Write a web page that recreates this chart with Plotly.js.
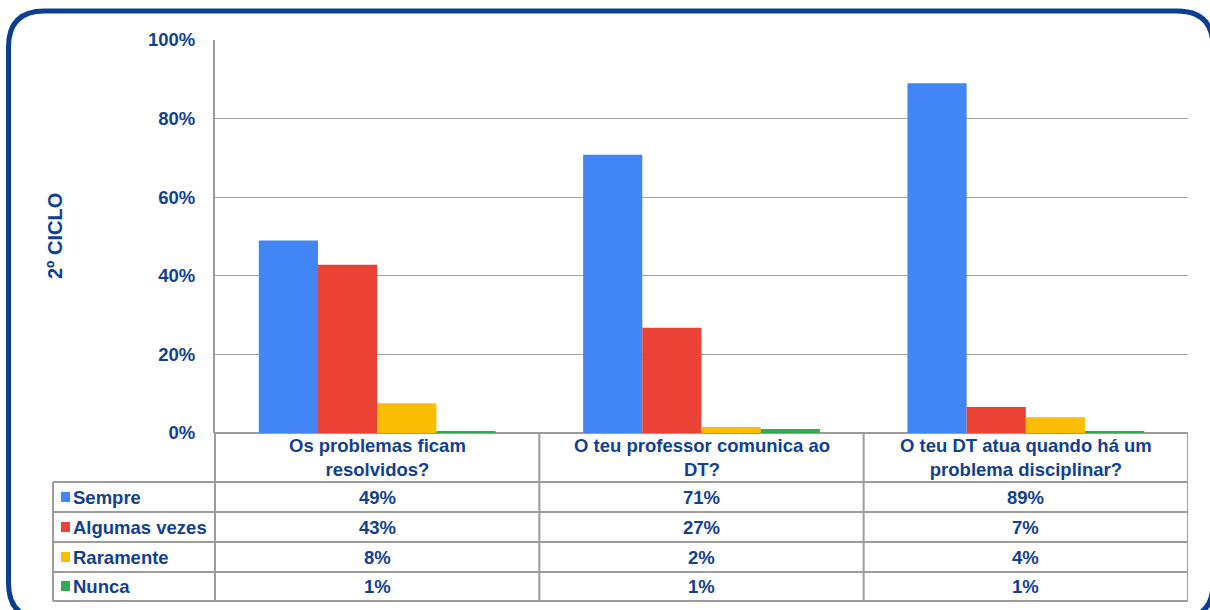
<!DOCTYPE html>
<html>
<head>
<meta charset="utf-8">
<script src="https://cdn.plot.ly/plotly-3.0.1.min.js"></script>
<style>html,body{margin:0;padding:0;background:#fff;}#chart{width:1210px;height:610px;}</style>
</head>
<body>
<div id="chart"></div>
<script>
// ---- data ----
const categories = ["Os problemas ficam<br>resolvidos?", "O teu professor comunica ao<br>DT?", "O teu DT atua quando há um<br>problema disciplinar?"];
const seriesNames = ["Sempre", "Algumas vezes", "Raramente", "Nunca"];
const sempre = [49.0, 70.8, 89.0];
const algumasVezes = [42.8, 26.8, 6.6];
const raramente = [7.6, 1.5, 4.0];
const nunca = [0.5, 1.0, 0.5];
const tableSempre = ["49%", "71%", "89%"];
const tableAlgumas = ["43%", "27%", "7%"];
const tableRaramente = ["8%", "2%", "4%"];
const tableNunca = ["1%", "1%", "1%"];
const yTickVals = [0, 20, 40, 60, 80, 100];
const yTickText = ["0%", "20%", "40%", "60%", "80%", "100%"];
const yTitle = "2º CICLO";

// ---- style ----
const colors = ["#4285f4", "#ea4335", "#fbbc04", "#34a853"];
const textColor = "#123f8f";
const lineGray = "#9c9c9c";
const font = "Liberation Sans, Arial, sans-serif";
const fs = 18.5;

const W = 1210, H = 610, L = 215, R = 1188, T = 40, B = 433;
const X = px => (px - L) / (R - L);
const Y = py => (B - py) / (B - T);

const allSeries = [sempre, algumasVezes, raramente, nunca];
const xIdx = [0, 1, 2];
const traces = allSeries.map((vals, i) => ({
  type: "bar",
  x: xIdx,
  y: vals,
  name: seriesNames[i],
  marker: {color: colors[i]},
  hoverinfo: "skip"
}));

const shapes = [];
const annotations = [];

// table geometry (pixels)
const rowLines = [482, 512, 542, 572, 601];
const tableLeft = 53;
const gl = {color: lineGray, width: 2};
rowLines.forEach(py => {
  shapes.push({type: "line", xref: "paper", yref: "paper", x0: X(tableLeft), x1: 1, y0: Y(py), y1: Y(py), line: gl});
});
// vertical lines
shapes.push({type: "line", xref: "paper", yref: "paper", x0: X(tableLeft), x1: X(tableLeft), y0: Y(482), y1: Y(601), line: gl});
shapes.push({type: "line", xref: "paper", yref: "paper", x0: 0, x1: 0, y0: 0, y1: Y(601), line: gl});
[0.5, 1.5, 2.5].forEach(xv => {
  shapes.push({type: "line", xref: "x", yref: "paper", x0: xv, x1: xv, y0: 0, y1: Y(601), line: gl});
});

// header category labels
categories.forEach((c, i) => {
  annotations.push({xref: "x", yref: "paper", x: i, y: Y(457), text: c.split("<br>").map(s => "<b>" + s + "</b>").join("<br>"), showarrow: false,
    font: {family: font, size: fs, color: textColor}, align: "center", yanchor: "middle"});
});

// rows
const rowCenters = [497, 527, 557, 586];
const tableRows = [tableSempre, tableAlgumas, tableRaramente, tableNunca];
tableRows.forEach((row, r) => {
  row.forEach((t, i) => {
    annotations.push({xref: "x", yref: "paper", x: i, y: Y(rowCenters[r]), text: "<b>" + t + "</b>", showarrow: false,
      font: {family: font, size: fs, color: textColor}, yanchor: "middle"});
  });
  annotations.push({xref: "paper", yref: "paper", x: X(71), y: Y(rowCenters[r]), text: "<b>" + seriesNames[r] + "</b>", showarrow: false,
    xanchor: "left", yanchor: "middle", font: {family: font, size: fs, color: textColor}});
  shapes.push({type: "rect", xref: "paper", yref: "paper", x0: X(61), x1: X(70), y0: Y(rowCenters[r] - 5), y1: Y(rowCenters[r] + 5),
    fillcolor: colors[r], line: {width: 0}});
});

// y title
annotations.push({xref: "paper", yref: "paper", x: X(55), y: Y(236), text: "<b>" + yTitle + "</b>", showarrow: false,
  textangle: -90, font: {family: font, size: 20, color: textColor}, xanchor: "center", yanchor: "middle"});

// rounded border
(function () {
  const l = 8.5, t = 11, r = 1213, b = 619, rad = 36;
  const P = (px, py) => X(px) + "," + Y(py);
  const path = "M" + P(l + rad, t) + " L" + P(r - rad, t) + " Q" + P(r, t) + " " + P(r, t + rad) +
    " L" + P(r, b - rad) + " Q" + P(r, b) + " " + P(r - rad, b) + " L" + P(l + rad, b) +
    " Q" + P(l, b) + " " + P(l, b - rad) + " L" + P(l, t + rad) + " Q" + P(l, t) + " " + P(l + rad, t) + " Z";
  shapes.push({type: "path", xref: "paper", yref: "paper", path: path, line: {color: "#0b3d93", width: 5}, fillcolor: "rgba(0,0,0,0)"});
})();

const layout = {
  width: W, height: H,
  margin: {l: L, r: W - R, t: T, b: H - B, pad: 0},
  paper_bgcolor: "#fff", plot_bgcolor: "#fff",
  showlegend: false,
  barmode: "group",
  bargap: 0.27,
  bargroupgap: 0,
  font: {family: font, color: textColor},
  xaxis: {type: "linear", range: [-0.5, 2.5], showticklabels: false, showgrid: false, zeroline: false,
    showline: false, ticks: "", fixedrange: true},
  yaxis: {range: [0, 100], tickvals: yTickVals, ticktext: yTickText, showgrid: true, gridcolor: "#a3a3a3", gridwidth: 1,
    zeroline: true, zerolinecolor: lineGray, zerolinewidth: 2,
    showline: true, linecolor: lineGray, linewidth: 2, ticks: "", ticklabelstandoff: 14,
    tickfont: {family: font, size: fs, color: textColor, weight: "bold"}, fixedrange: true},
  shapes: shapes,
  annotations: annotations
};

Plotly.newPlot("chart", traces, layout, {displayModeBar: false, staticPlot: true});
</script>
</body>
</html>
